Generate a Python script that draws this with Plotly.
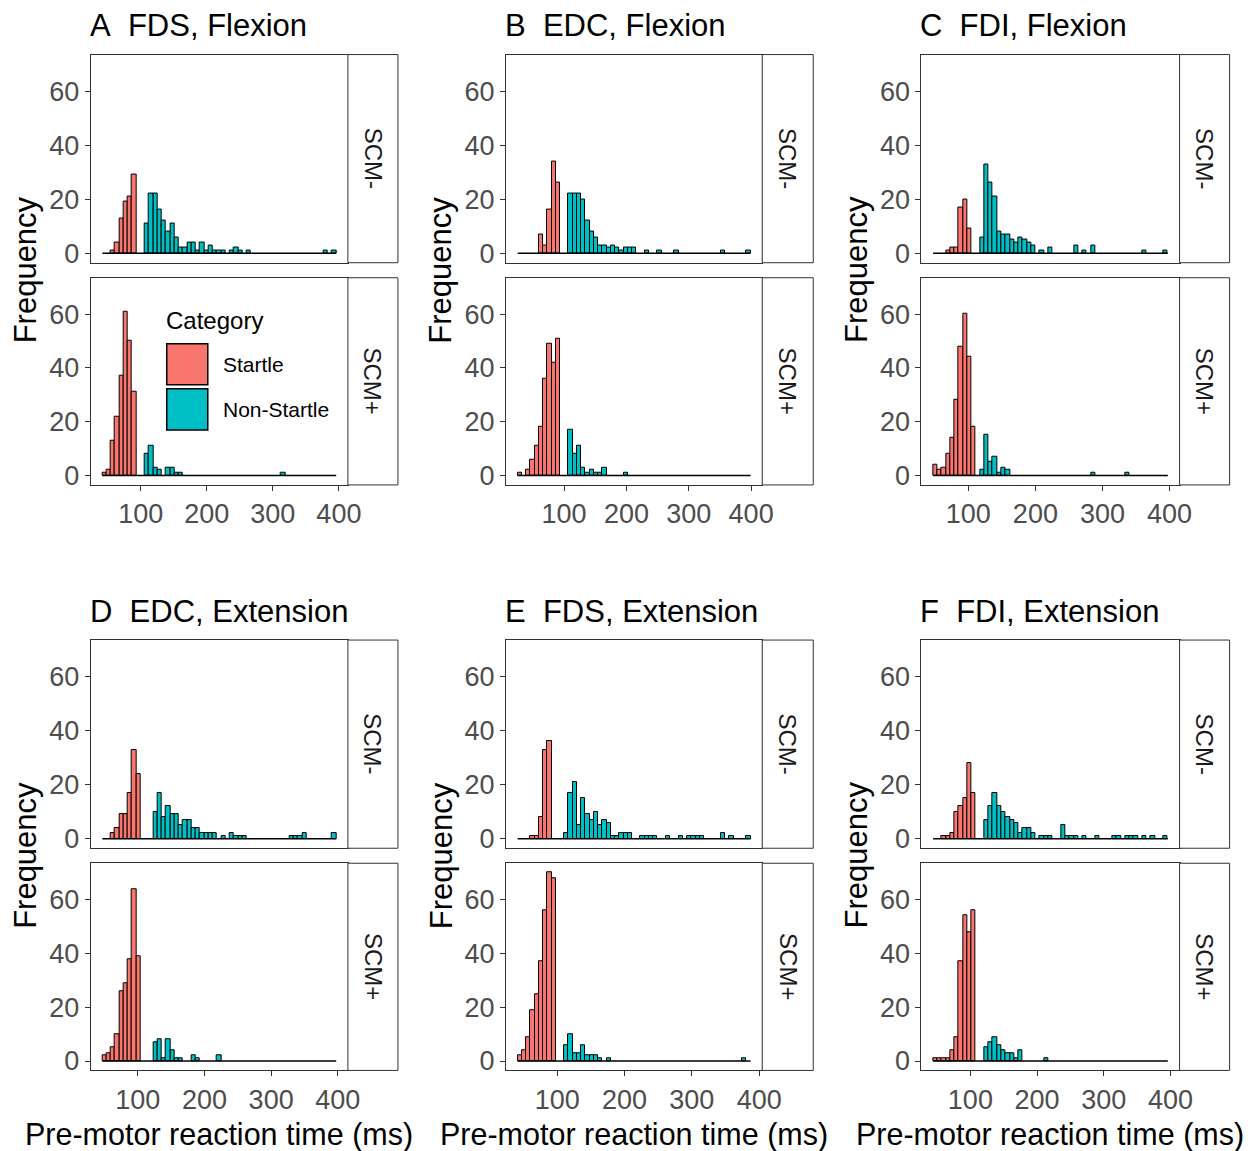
import plotly.graph_objects as go

W, H = 1251, 1151
# the captured page comes out slightly compressed; pixel targets are mapped through these
W_EFF, H_EFF = 1231.0, 1144.0
N_BINS = 55
SPLIT = 10  # first SPLIT bins hold Startle counts, the rest Non-Startle

STARTLE_COLOR = "#F8766D"
NONSTARTLE_COLOR = "#00BFC4"
FONT = "Liberation Sans, Arial, sans-serif"

letters = ["A", "B", "C", "D", "E", "F"]
titles = ["FDS, Flexion", "EDC, Flexion", "FDI, Flexion",
          "EDC, Extension", "FDS, Extension", "FDI, Extension"]
facets = ["SCM-", "SCM+"]
categories = ["Startle", "Non-Startle"]
x_ticks = [100, 200, 300, 400]
y_ticks = [0, 20, 40, 60]

# data range (ms) covered by the histogram bins of each panel
bin_lo = [41.9, 25.6, 47.4, 47.0, 41.3, 44.1]
bin_hi = [395.9, 399.1, 397.5, 397.5, 387.2, 395.9]

# ---- counts (Startle: bins 0-9, Non-Startle: bins 10-54) ----
A_minus_startle = [0, 0, 1, 4, 13, 19, 21, 29, 0, 0]
A_minus_nonstartle = [11, 22, 22, 16, 12, 8, 11, 6, 2, 2, 4, 4, 1, 4, 1, 3, 1, 1, 1, 0,
                      1, 2, 1, 0, 1, 0, 0, 0, 0, 0, 0, 0, 0, 0, 0, 0, 0, 0, 0, 0, 0, 0, 1, 0, 1]
A_plus_startle = [1, 2, 13, 22, 37, 61, 50, 31, 0, 0]
A_plus_nonstartle = [8, 11, 3, 2, 0, 3, 3, 1, 1, 0, 0, 0, 0, 0, 0, 0, 0, 0, 0, 0,
                     0, 0, 0, 0, 0, 0, 0, 0, 0, 0, 0, 0, 1, 0, 0, 0, 0, 0, 0, 0, 0, 0, 0, 0, 0]

B_minus_startle = [0, 0, 0, 0, 0, 7, 3, 16, 34, 26]
B_minus_nonstartle = [0, 0, 22, 22, 22, 20, 12, 8, 6, 3, 3, 2, 3, 2, 1, 2, 2, 2, 0, 0,
                      1, 0, 0, 1, 0, 0, 0, 1, 0, 0, 0, 0, 0, 0, 0, 0, 0, 0, 1, 0, 0, 0, 0, 0, 1]
B_plus_startle = [1, 0, 2, 6, 11, 18, 36, 49, 42, 51]
B_plus_nonstartle = [0, 0, 17, 8, 11, 3, 1, 2, 1, 1, 3, 0, 0, 0, 0, 1, 0, 0, 0, 0,
                     0, 0, 0, 0, 0, 0, 0, 0, 0, 0, 0, 0, 0, 0, 0, 0, 0, 0, 0, 0, 0, 0, 0, 0, 0]

C_minus_startle = [0, 0, 0, 1, 2, 2, 17, 20, 9, 0]
C_minus_nonstartle = [0, 6, 33, 26, 21, 8, 7, 7, 5, 4, 6, 5, 4, 3, 0, 1, 0, 2, 0, 0,
                      0, 0, 0, 3, 0, 1, 0, 3, 0, 0, 0, 0, 0, 0, 0, 0, 0, 0, 0, 1, 0, 0, 0, 0, 1]
C_plus_startle = [4, 2, 3, 8, 14, 28, 48, 60, 44, 18]
C_plus_nonstartle = [0, 2, 15, 5, 7, 1, 3, 2, 0, 0, 0, 0, 0, 0, 0, 0, 0, 0, 0, 0,
                     0, 0, 0, 0, 0, 0, 0, 1, 0, 0, 0, 0, 0, 0, 0, 1, 0, 0, 0, 0, 0, 0, 0, 0, 0]

D_minus_startle = [0, 0, 2, 4, 9, 9, 17, 33, 24, 0]
D_minus_nonstartle = [0, 0, 10, 17, 8, 12, 9, 9, 5, 7, 7, 4, 4, 2, 2, 2, 2, 0, 1, 0,
                      2, 1, 1, 1, 0, 0, 0, 0, 0, 0, 0, 0, 0, 0, 1, 1, 1, 2, 0, 0, 0, 0, 0, 0, 2]
D_plus_startle = [2, 3, 5, 10, 26, 29, 38, 64, 39, 0]
D_plus_nonstartle = [0, 0, 7, 8, 1, 8, 4, 1, 1, 0, 0, 2, 1, 0, 0, 0, 0, 2, 0, 0,
                     0, 0, 0, 0, 0, 0, 0, 0, 0, 0, 0, 0, 0, 0, 0, 0, 0, 0, 0, 0, 0, 0, 0, 0, 0]

E_minus_startle = [0, 0, 0, 1, 1, 8, 33, 36, 0, 0]
E_minus_nonstartle = [0, 2, 17, 21, 5, 15, 9, 7, 10, 5, 7, 6, 1, 1, 2, 2, 2, 0, 0, 1,
                      1, 1, 1, 0, 0, 1, 0, 0, 1, 0, 1, 1, 1, 1, 0, 0, 0, 0, 2, 0, 1, 0, 0, 0, 1]
E_plus_startle = [2, 4, 9, 19, 25, 37, 56, 70, 68, 0]
E_plus_nonstartle = [0, 6, 10, 3, 3, 6, 2, 2, 2, 1, 0, 1, 0, 0, 0, 0, 0, 0, 0, 0,
                     0, 0, 0, 0, 0, 0, 0, 0, 0, 0, 0, 0, 0, 0, 0, 0, 0, 0, 0, 0, 0, 0, 0, 1, 0]

F_minus_startle = [0, 0, 1, 1, 2, 10, 12, 15, 28, 17]
F_minus_nonstartle = [0, 0, 7, 12, 17, 12, 10, 8, 7, 6, 2, 4, 4, 2, 0, 1, 1, 1, 0, 0,
                      5, 1, 1, 1, 0, 1, 0, 0, 1, 0, 0, 0, 1, 1, 0, 1, 1, 1, 0, 1, 0, 1, 0, 0, 1]
F_plus_startle = [1, 1, 1, 1, 4, 9, 37, 54, 48, 56]
F_plus_nonstartle = [0, 0, 5, 7, 9, 6, 4, 3, 3, 1, 4, 0, 0, 0, 0, 0, 1, 0, 0, 0,
                     0, 0, 0, 0, 0, 0, 0, 0, 0, 0, 0, 0, 0, 0, 0, 0, 0, 0, 0, 0, 0, 0, 0, 0, 0]

counts = {
    "A": [(A_minus_startle, A_minus_nonstartle), (A_plus_startle, A_plus_nonstartle)],
    "B": [(B_minus_startle, B_minus_nonstartle), (B_plus_startle, B_plus_nonstartle)],
    "C": [(C_minus_startle, C_minus_nonstartle), (C_plus_startle, C_plus_nonstartle)],
    "D": [(D_minus_startle, D_minus_nonstartle), (D_plus_startle, D_plus_nonstartle)],
    "E": [(E_minus_startle, E_minus_nonstartle), (E_plus_startle, E_plus_nonstartle)],
    "F": [(F_minus_startle, F_minus_nonstartle), (F_plus_startle, F_plus_nonstartle)],
}

# ---- layout geometry (target pixels in the picture) ----
col_x = [(90, 347), (505, 761), (920, 1178)]
strip_x = [(347, 397), (761, 812), (1178, 1228)]
row_y = [[(54, 262), (277, 484)], [(639, 847), (862, 1069)]]
title_y = [25, 610]
xtitle_y = 1133


def px(x):
    return (x + 0.6) / W_EFF


def py(y):
    return 1 - (y + 0.5) / H_EFF


def ann(text, x, y, size, color="black", xanchor="center", angle=0):
    return dict(text=text, xref="paper", yref="paper", x=px(x), y=py(y),
                xanchor=xanchor, yanchor="middle", showarrow=False, textangle=angle,
                font=dict(family=FONT, size=size, color=color))


fig = go.Figure()
layout = dict(width=W, height=H, autosize=False, margin=dict(l=0, r=0, t=0, b=0, pad=0),
              paper_bgcolor="white", plot_bgcolor="white", showlegend=False,
              barmode="overlay", bargap=0)
shapes = []
annotations = []

k = 0
for li, L in enumerate(letters):
    r, c = divmod(li, 3)
    lo, hi = bin_lo[li], bin_hi[li]
    bw = (hi - lo) / N_BINS
    span = hi - lo
    xr = [lo - 0.05 * span, hi + 0.05 * span]
    for fi, facet in enumerate(facets):
        k += 1
        sfx = "" if k == 1 else str(k)
        st, ns = counts[L][fi]
        full = list(st) + list(ns)
        centers = [lo + (i + 0.5) * bw for i in range(N_BINS)]
        # zero-count baseline drawn across the binned range
        fig.add_trace(go.Scatter(x=[lo, hi], y=[0, 0], mode="lines",
                                 line=dict(color="black", width=1.5),
                                 xaxis="x" + sfx, yaxis="y" + sfx, hoverinfo="skip"))
        for ci, cat in enumerate(categories):
            idx = [i for i in range(N_BINS) if (i < SPLIT) == (ci == 0) and full[i] > 0]
            fig.add_trace(go.Bar(
                x=[centers[i] for i in idx], y=[full[i] for i in idx], width=bw,
                name=cat, marker=dict(color=STARTLE_COLOR if ci == 0 else NONSTARTLE_COLOR,
                                      line=dict(color="black", width=1)),
                xaxis="x" + sfx, yaxis="y" + sfx))
        x0, x1 = col_x[c]
        y0, y1 = row_y[r][fi]
        is_bottom = facet == "SCM+"
        layout["xaxis" + sfx] = dict(
            domain=[px(x0), px(x1)], range=xr, anchor="y" + sfx,
            tickvals=x_ticks, showticklabels=is_bottom,
            ticks="outside" if is_bottom else "", ticklen=5, tickwidth=1, tickcolor="#333333",
            showline=True, mirror=True, linecolor="#333333", linewidth=1,
            showgrid=False, zeroline=False,
            tickfont=dict(family=FONT, size=27, color="#4D4D4D"))
        layout["yaxis" + sfx] = dict(
            domain=[py(y1), py(y0)], range=[-3.5, 73.5], anchor="x" + sfx,
            tickvals=y_ticks, ticks="outside", ticklen=5, tickwidth=1, tickcolor="#333333",
            showline=True, mirror=True, linecolor="#333333", linewidth=1,
            showgrid=False, zeroline=False,
            tickfont=dict(family=FONT, size=27, color="#4D4D4D"))
        sx0, sx1 = strip_x[c]
        shapes.append(dict(type="rect", xref="paper", yref="paper",
                           x0=px(sx0), x1=px(sx1), y0=py(y1), y1=py(y0),
                           line=dict(color="#333333", width=1), fillcolor="white"))
        annotations.append(ann(facet, (sx0 + sx1) / 2, (y0 + y1) / 2, 24,
                               color="#1A1A1A", angle=90))
    # panel title
    annotations.append(ann(L + "\u00a0\u00a0" + titles[li], col_x[c][0] - 3, title_y[r],
                           31, xanchor="left"))
    # y title
    annotations.append(ann("Frequency", col_x[c][0] - 65,
                           (row_y[r][0][0] + row_y[r][1][1]) / 2, 31, angle=-90))
    if r == 1:
        annotations.append(ann("Pre-motor reaction time (ms)",
                               (col_x[c][0] + col_x[c][1]) / 2, xtitle_y, 30.5))

# legend drawn inside panel A (SCM+)
leg_keys = [(STARTLE_COLOR, 343, 384), (NONSTARTLE_COLOR, 388, 429)]
annotations.append(ann("Category", 163, 320, 24, xanchor="left"))
for (col, ky0, ky1), cat in zip(leg_keys, categories):
    shapes.append(dict(type="rect", xref="paper", yref="paper",
                       x0=px(166), x1=px(207), y0=py(ky1), y1=py(ky0),
                       line=dict(color="black", width=1.5), fillcolor=col))
    annotations.append(ann(cat, 220, (ky0 + ky1) / 2, 21, xanchor="left"))

layout["shapes"] = shapes
layout["annotations"] = annotations
fig.update_layout(**layout)
fig.write_html("out.html", config={"responsive": False})
